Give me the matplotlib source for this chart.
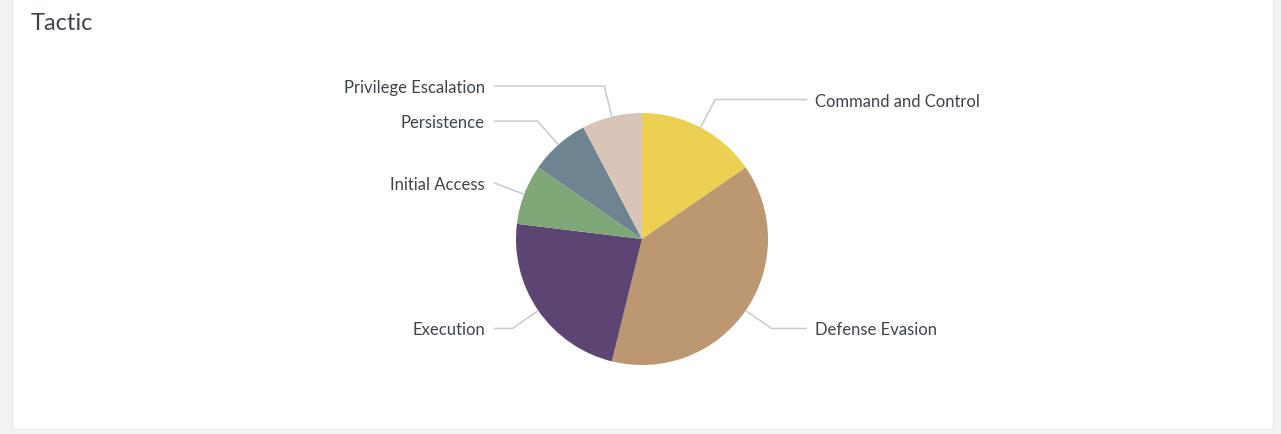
import numpy as np
import matplotlib
matplotlib.use("Agg")
import matplotlib.pyplot as plt
from matplotlib.patches import Rectangle

# Data
categories = ["Command and Control", "Defense Evasion", "Execution",
              "Initial Access", "Persistence", "Privilege Escalation"]
counts = [2, 5, 3, 1, 1, 1]
colors = ["#ecd052", "#bb9872", "#5c4572", "#80a777", "#6e8591", "#d8c5b7"]

W, H = 1281, 434
fig = plt.figure(figsize=(W / 100, H / 100), dpi=100)
fig.patch.set_facecolor("#f2f3f5")
ax = fig.add_axes([0, 0, 1, 1])

font = ["Lato", "DejaVu Sans"]
text_color = "#3c444d"

cx, cy, r = 642, H - 239, 126
wedges, _ = ax.pie(counts, colors=colors, startangle=90, counterclock=False,
                   center=(cx, cy), radius=r, frame=True,
                   wedgeprops=dict(linewidth=0))
ax.set_xlim(0, W)
ax.set_ylim(0, H)
ax.set_aspect("equal")
ax.axis("off")

# white panel
ax.add_patch(Rectangle((12, 5), 1261, H, facecolor="white",
                       edgecolor="#e6e8eb", linewidth=0.8, zorder=0))

ax.text(31, H - 23, "Tactic", fontsize=17, color=text_color,
        family=font, va="center", ha="left")

line_color = "#c5cbd1"
left_end, right_end = cx - 148, cx + 165
for w, lab in zip(wedges, categories):
    mid = np.deg2rad((w.theta1 + w.theta2) / 2)
    x0, y0 = cx + r * np.cos(mid), cy + r * np.sin(mid)
    x1, y1 = cx + 1.25 * r * np.cos(mid), cy + 1.25 * r * np.sin(mid)
    if np.cos(mid) >= 0:
        x2 = right_end
        tx, ha = x2 + 8, "left"
    else:
        x2 = left_end
        tx, ha = x2 - 9, "right"
    ax.plot([x0, x1, x2], [y0, y1, y1], color=line_color, lw=1.1,
            solid_capstyle="butt", zorder=1)
    ax.text(tx, y1 - 2, lab, fontsize=12, color=text_color, family=font,
            ha=ha, va="center")

fig.savefig("out.png", dpi=100, facecolor=fig.get_facecolor())
